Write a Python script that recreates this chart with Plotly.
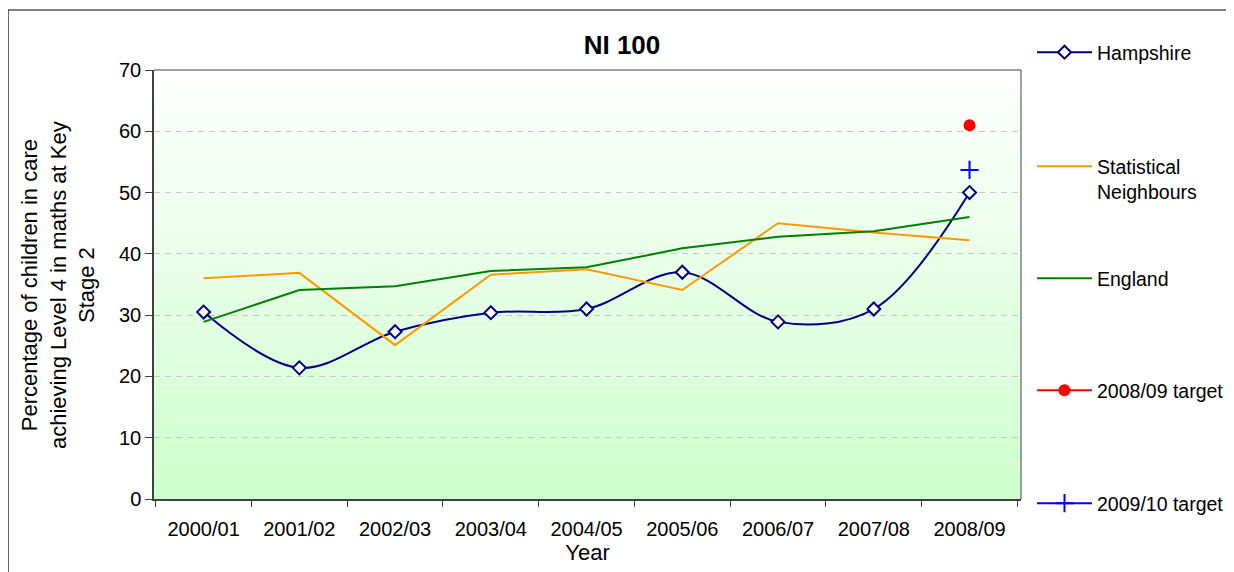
import plotly.graph_objects as go

years = ["2000/01", "2001/02", "2002/03", "2003/04", "2004/05",
         "2005/06", "2006/07", "2007/08", "2008/09"]
hampshire = [30.5, 21.4, 27.3, 30.4, 31.0, 37.0, 28.9, 31.0, 50.0]
stat_neighbours = [36.0, 36.9, 25.1, 36.6, 37.5, 34.1, 45.0, 43.5, 42.2]
england = [28.9, 34.1, 34.7, 37.2, 37.8, 40.9, 42.8, 43.7, 46.0]
target_0809_x = ["2008/09"]
target_0809 = [61.0]
target_0910_x = ["2008/09"]
target_0910 = [53.7]
yticks = [0, 10, 20, 30, 40, 50, 60, 70]

FONT = "Liberation Sans, Arial, sans-serif"

# page offset (browser body margin)
OFF = 8
PW, PH = 1234, 572          # visible page size
W, H = PW, PH
# desired plot area in page pixels
PL, PR, PT, PB = 154, 1021, 70, 499
L = PL - OFF
T = PT - OFF
R = W - (PR - OFF)
B = H - (PB - OFF)
pw, ph = PR - PL, PB - PT


def px_x(p):
    return (p - PL) / pw


def px_y(p):
    return (PB - p) / ph


fig = go.Figure()
fig.add_trace(go.Scatter(
    x=years, y=hampshire, name="Hampshire", mode="lines+markers",
    line=dict(color="#000080", width=2, shape="spline", smoothing=1),
    marker=dict(symbol="diamond", size=10, color="white",
                line=dict(color="#000080", width=2)),
    legend="legend"))
fig.add_trace(go.Scatter(
    x=years, y=stat_neighbours, name="Statistical<br>Neighbours", mode="lines",
    line=dict(color="#FF9900", width=2), legend="legend2"))
fig.add_trace(go.Scatter(
    x=years, y=england, name="England", mode="lines",
    line=dict(color="#008000", width=2), legend="legend3"))
fig.add_trace(go.Scatter(
    x=target_0809_x, y=target_0809, name="2008/09 target", mode="lines+markers",
    line=dict(color="#FF0000", width=2),
    marker=dict(symbol="circle", size=12, color="#FF0000"), legend="legend4"))
fig.add_trace(go.Scatter(
    x=target_0910_x, y=target_0910, name="2009/10 target", mode="lines+markers",
    line=dict(color="#0000FF", width=2),
    marker=dict(symbol="cross-thin", size=13, color="#0000FF",
                line=dict(color="#0000FF", width=2)), legend="legend5"))

# gradient plot background (white at top to light green at bottom)
n = 60
shapes = []
for i in range(n):
    t = (i + 0.5) / n  # 0 at bottom, 1 at top
    r = int(round(204 + (255 - 204) * t))
    shapes.append(dict(type="rect", xref="x domain", yref="y domain",
                       x0=0, x1=1, y0=i / n, y1=(i + 1) / n,
                       fillcolor=f"rgb({r},255,{r})", line=dict(width=0),
                       layer="below"))
# top and right plot borders in grey
shapes.append(dict(type="line", xref="x domain", yref="y domain",
                   x0=0, x1=1, y0=1, y1=1, line=dict(color="#808080", width=1.5),
                   layer="above"))
shapes.append(dict(type="line", xref="x domain", yref="y domain",
                   x0=1, x1=1, y0=0, y1=1, line=dict(color="#808080", width=1.5),
                   layer="above"))
# outer chart border (only left and top edges are visible in the picture)
shapes.append(dict(type="line", xref="paper", yref="paper",
                   x0=px_x(8), x1=px_x(8), y0=px_y(600), y1=px_y(10),
                   line=dict(color="#000000", width=1.2), layer="above"))
shapes.append(dict(type="line", xref="paper", yref="paper",
                   x0=px_x(8), x1=px_x(1260), y0=px_y(10), y1=px_y(10),
                   line=dict(color="#000000", width=1.2), layer="above"))

legend_common = dict(x=px_x(1032), xanchor="left", yanchor="top",
                     font=dict(family=FONT, size=19.5, color="black"),
                     itemwidth=55, bgcolor="rgba(0,0,0,0)", valign="top")

fig.update_layout(
    width=W, height=H,
    margin=dict(l=L, r=R, t=T, b=B, autoexpand=False),
    paper_bgcolor="white", plot_bgcolor="white",
    font=dict(family=FONT, size=20, color="black"),
    title=dict(text="<b>NI 100</b>", x=(622 - OFF) / W, xref="container", xanchor="center",
               y=1 - (45 - OFF) / H, yref="container", yanchor="middle",
               font=dict(family=FONT, size=26, color="black")),
    shapes=shapes,
    showlegend=True,
    legend=dict(y=px_y(33), **legend_common),
    legend2=dict(y=px_y(147), **legend_common),
    legend3=dict(y=px_y(259), **legend_common),
    legend4=dict(y=px_y(371), **legend_common),
    legend5=dict(y=px_y(484), **legend_common),
    annotations=[dict(
        text="Percentage of children in care<br>achieving Level 4 in maths at Key<br>Stage 2",
        xref="paper", yref="paper", x=px_x(58), y=px_y(285),
        xanchor="center", yanchor="middle", textangle=-90, showarrow=False,
        font=dict(family=FONT, size=22, color="black"), align="center")],
)
fig.update_xaxes(
    type="category", categoryorder="array", categoryarray=years,
    showline=True, linecolor="#404040", linewidth=1.5,
    ticks="outside", tickson="boundaries", ticklen=6, tickcolor="#404040",
    tickfont=dict(family=FONT, size=20, color="black"), ticklabelstandoff=11,
    showgrid=False, zeroline=False,
    title=dict(text="Year", font=dict(family=FONT, size=22, color="black"), standoff=4),
    automargin=False)
fig.update_yaxes(
    range=[0, 70], tickvals=yticks,
    showline=True, linecolor="#404040", linewidth=1.5,
    ticks="outside", ticklen=7, tickcolor="#404040",
    tickfont=dict(family=FONT, size=20, color="black"),
    showgrid=True, gridcolor="#C8C8C8", griddash="6px,5px", gridwidth=1,
    zeroline=False, automargin=False)

fig.write_html("out.html")
